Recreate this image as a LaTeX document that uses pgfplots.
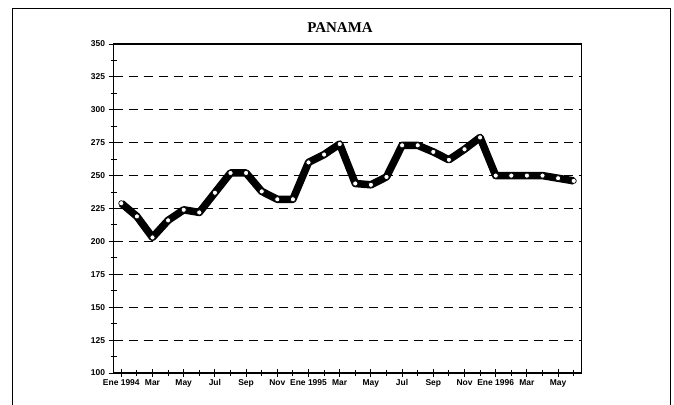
\documentclass[border=0pt]{standalone}
\usepackage{pgfplots}
\pgfplotsset{compat=1.18}
\usepackage{fontspec}
\setmainfont{Liberation Serif}
\newfontfamily\lab{Liberation Sans}
\begin{document}
\begin{tikzpicture}
\useasboundingbox (0,0) rectangle (674bp,405bp);
\draw[line width=1bp] (12bp,0bp) -- (12bp,396bp) -- (670bp,396bp) -- (670bp,0bp);
\node[font=\bfseries\fontsize{15}{17}\selectfont] at (340bp,377bp) {PANAMA};
\begin{axis}[
  at={(113.5bp,32bp)}, anchor=south west,
  scale only axis, width=468bp, height=329bp,
  xmin=-0.5, xmax=29.5, ymin=100, ymax=350,
  axis line style={line width=1.3bp},
  ytick={100,125,...,350},
  minor ytick={112.5,137.5,...,337.5},
  xtick={0,2,...,28},
  minor xtick={1,3,...,29},
  xticklabels={Ene 1994,Mar,May,Jul,Sep,Nov,Ene 1995,Mar,May,Jul,Sep,Nov,Ene 1996,Mar,May},
  tick align=center,
  major tick length=8bp, minor tick length=6bp,
  every tick/.style={black, line width=0.9bp},
  y tick style={/pgfplots/major tick length=10bp},
  tick pos=left,
  ymajorgrids,
  major grid style={black, line width=1.1bp, dash pattern=on 9bp off 6bp},
  ticklabel style={font=\lab\bfseries\fontsize{8.5}{9}\selectfont},
  /pgf/number format/assume math mode=true,
  yticklabel style={xshift=-1bp},
  xticklabel style={yshift=1.5bp, text height=6.5bp, text depth=2bp},
  clip=false,
]
\addplot[black, line width=7.5bp, line join=round, mark=*, mark size=2.6bp,
  mark options={fill=white, draw=black, line width=0.7bp}]
coordinates {
(0,229) (1,219) (2,203) (3,216) (4,224) (5,222) (6,237) (7,252) (8,252) (9,238)
(10,232) (11,232) (12,260) (13,266) (14,274) (15,244) (16,243) (17,249) (18,273) (19,273)
(20,268) (21,262) (22,270) (23,279) (24,250) (25,250) (26,250) (27,250) (28,248) (29,246)
};
\end{axis}
\end{tikzpicture}
\end{document}
